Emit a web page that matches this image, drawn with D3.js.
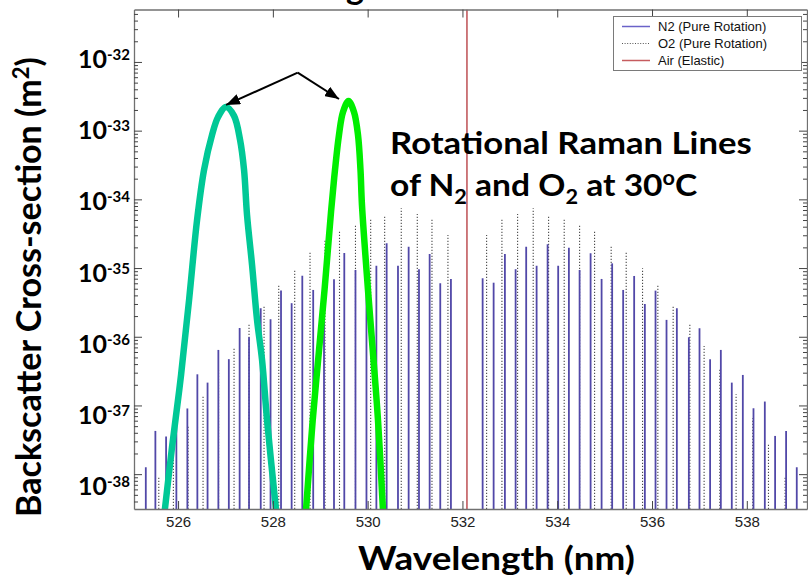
<!DOCTYPE html>
<html>
<head>
<meta charset="utf-8">
<script src="https://cdn.jsdelivr.net/npm/d3@7/dist/d3.min.js"></script>
<style>
  html, body { margin: 0; padding: 0; background: #ffffff; }
  svg { display: block; }
</style>
</head>
<body>
<svg id="chart" width="808" height="579"></svg>
<script>
// ---- N2 pure rotational Raman lines (wavelength in nm, cross-section in m^2)
const n2Wavelength = [
  525.319, 525.521, 525.747, 525.964, 526.196, 526.407, 526.622, 526.850, 527.071, 527.299,
  527.497, 527.744, 527.951, 528.172, 528.396, 528.621, 528.851, 529.079, 529.290, 529.507,
  529.743, 529.975, 530.184, 530.401, 530.640, 530.865, 531.083, 531.308, 531.532, 531.757,
  532.426, 532.658, 532.896, 533.122, 533.345, 533.565, 533.797, 534.020, 534.246, 534.472,
  534.704, 534.936, 535.159, 535.391, 535.623, 535.849, 536.074, 536.306, 536.524, 536.777,
  537.002, 537.226, 537.452, 537.683, 537.916, 538.141, 538.380, 538.597, 538.829, 539.054
];
const n2Cross = [
  1.26e-38, 4.26e-38, 3.52e-38, 7.28e-38, 9.04e-38, 2.84e-37, 2.15e-37, 6.43e-37, 4.72e-37, 1.34e-36,
  9.84e-37, 2.60e-36, 1.80e-36, 4.72e-36, 3.08e-36, 7.73e-36, 4.80e-36, 5.68e-36, 6.89e-36, 1.65e-35,
  9.38e-36, 1.83e-35, 1.08e-35, 2.30e-35, 1.08e-35, 2.05e-35, 9.62e-36, 1.60e-35, 6.01e-36, 6.94e-36,
  7.10e-36, 6.12e-36, 1.60e-35, 9.62e-36, 2.05e-35, 1.08e-35, 2.22e-35, 1.08e-35, 1.98e-35, 9.38e-36,
  1.64e-35, 6.94e-36, 1.17e-35, 4.80e-36, 7.67e-36, 3.00e-36, 4.69e-36, 1.76e-36, 2.60e-36, 9.84e-37,
  1.33e-36, 4.70e-37, 6.43e-37, 2.15e-37, 2.78e-37, 9.10e-38, 1.14e-37, 3.60e-38, 4.26e-38, 1.26e-38
];

// ---- O2 pure rotational Raman lines
const o2Wavelength = [
  525.593, 525.901, 526.211, 526.527, 526.854, 527.181, 527.497, 527.814, 528.124, 528.461,
  528.784, 529.100, 529.406, 529.743, 530.064, 530.359, 530.709, 531.047, 531.357, 531.694,
  532.510, 532.833, 533.164, 533.493, 533.818, 534.147, 534.472, 534.788, 535.138, 535.455,
  535.800, 536.123, 536.446, 536.798, 537.099, 537.431, 537.774, 538.126, 538.457, 538.808
];
const o2Cross = [
  9.20e-39, 1.80e-38, 5.20e-38, 1.42e-37, 3.29e-37, 7.03e-37, 1.57e-36, 2.74e-36, 5.58e-36, 9.62e-36,
  1.73e-35, 2.56e-35, 3.49e-35, 4.24e-35, 5.31e-35, 5.93e-35, 7.41e-35, 6.12e-35, 5.31e-35, 3.03e-35,
  3.03e-35, 5.31e-35, 6.12e-35, 7.41e-35, 5.93e-35, 5.31e-35, 4.38e-35, 3.59e-35, 2.17e-35, 1.73e-35,
  9.93e-36, 5.68e-36, 2.90e-36, 1.57e-36, 7.35e-37, 3.48e-37, 1.46e-37, 6.52e-38, 2.78e-38, 9.20e-39
];

// ---- elastic (Rayleigh) return of air
const elasticWavelength = 532.095;

// ---- two receiver passbands selecting the rotational lines
const passAWavelength = [525.72, 525.873, 526.063, 526.232, 526.401, 526.548, 526.717, 526.844, 527.012,
  527.181, 527.308, 527.392, 527.455, 527.561, 527.666, 527.772, 527.877, 528.067];
const passACross = [3.0e-39, 2.49e-38, 2.78e-37, 3.43e-36, 5.01e-35, 2.68e-34, 8.66e-34, 1.58e-33, 2.21e-33,
  1.64e-33, 7.33e-34, 2.68e-34, 5.93e-35, 1.11e-35, 1.76e-36, 4.59e-37, 6.15e-38, 3.0e-39];
const passBWavelength = [528.699, 528.841, 528.959, 529.090, 529.227, 529.311, 529.395, 529.480, 529.596,
  529.712, 529.796, 529.849, 529.880, 530.007, 530.112, 530.218, 530.323];
const passBCross = [3.0e-39, 6.15e-38, 4.91e-37, 4.80e-36, 6.56e-35, 2.68e-34, 8.66e-34, 1.87e-33, 2.70e-33,
  1.87e-33, 8.66e-34, 2.68e-34, 8.29e-35, 4.80e-36, 5.81e-37, 6.15e-38, 3.0e-39];

// ---- axis ticks and labels
const xTicks = [526, 528, 530, 532, 534, 536, 538];
const yExponents = [-32, -33, -34, -35, -36, -37, -38];
const legendLabels = ["N2 (Pure Rotation)", "O2 (Pure Rotation)", "Air (Elastic)"];

// ---- callout arrows, in data coordinates
const arrowOrigin = [528.524, 7.0e-33];
const arrowTips = [[527.012, 2.37e-33], [529.395, 2.89e-33]];

// ================= drawing =================
const svg = d3.select("#chart");
const plot = { left: 134, right: 807, top: 9.5, bottom: 509 };

const x = d3.scaleLinear().domain([525.07, 539.27]).range([plot.left, plot.right]);
const y = d3.scaleLog().domain([3.11e-39, 5.8e-32]).range([plot.bottom, plot.top]);
// exponent labels are set on a slightly wider log scale of their own
const yLabel = d3.scaleLog().domain([1e-38, 1e-32]).range([486, 59]);

const boldFont = "Lato, 'Open Sans', sans-serif";
const plainFont = "'Liberation Sans', Arial, sans-serif";

const defs = svg.append("defs");
defs.append("clipPath").attr("id", "plot-clip")
  .append("rect")
  .attr("x", plot.left).attr("y", plot.top)
  .attr("width", plot.right - plot.left).attr("height", plot.bottom - plot.top);
defs.append("marker")
  .attr("id", "arrowhead")
  .attr("viewBox", "0 0 14 11")
  .attr("refX", 14).attr("refY", 5.5)
  .attr("markerWidth", 14).attr("markerHeight", 11)
  .attr("markerUnits", "userSpaceOnUse")
  .attr("orient", "auto")
  .append("path").attr("d", "M0,0 L14,5.5 L0,11 Z").attr("fill", "#000");

// title line sitting above the frame
svg.append("text")
  .attr("x", 364).attr("y", -1)
  .attr("text-anchor", "end")
  .style("font-family", boldFont).style("font-weight", 700).style("font-size", "34px")
  .text("Raman Scattering");

const marks = svg.append("g").attr("clip-path", "url(#plot-clip)");

// O2 lines: dotted
const o2 = d3.zip(o2Wavelength, o2Cross);
marks.append("g").selectAll("line").data(o2).join("line")
  .attr("x1", d => x(d[0])).attr("x2", d => x(d[0]))
  .attr("y1", plot.bottom).attr("y2", d => y(d[1]))
  .attr("stroke", "#4a4a4a").attr("stroke-width", 1.1)
  .attr("stroke-dasharray", "1.3,1.7");

// N2 lines: solid
const n2 = d3.zip(n2Wavelength, n2Cross);
marks.append("g").selectAll("line").data(n2).join("line")
  .attr("x1", d => x(d[0])).attr("x2", d => x(d[0]))
  .attr("y1", plot.bottom).attr("y2", d => y(d[1]))
  .attr("stroke", "#5148a8").attr("stroke-width", 1.8);

// elastic line spans the full height
marks.append("line")
  .attr("x1", x(elasticWavelength)).attr("x2", x(elasticWavelength))
  .attr("y1", plot.top).attr("y2", plot.bottom)
  .attr("stroke", "#c25a5e").attr("stroke-width", 1.6);

// passband curves
const passLine = d3.line().x(d => x(d[0])).y(d => y(d[1])).curve(d3.curveCatmullRom.alpha(0.5));
marks.append("path")
  .datum(d3.zip(passAWavelength, passACross))
  .attr("d", passLine)
  .attr("fill", "none").attr("stroke", "#00c896").attr("stroke-width", 6.5)
  .attr("stroke-linejoin", "round");
marks.append("path")
  .datum(d3.zip(passBWavelength, passBCross))
  .attr("d", passLine)
  .attr("fill", "none").attr("stroke", "#00ee00").attr("stroke-width", 6.5)
  .attr("stroke-linejoin", "round");

// ---- axes (ticks pointing inward on all four sides)
const axisColor = "#707070";
const isDecade = d => Math.abs(Math.log10(d) - Math.round(Math.log10(d))) < 1e-6;
const yTickValues = y.ticks();

const gBottom = svg.append("g").attr("transform", `translate(0,${plot.bottom})`)
  .call(d3.axisBottom(x).tickValues(xTicks).tickSize(-8).tickSizeOuter(0).tickPadding(7)
    .tickFormat(d3.format("d")));
const gTop = svg.append("g").attr("transform", `translate(0,${plot.top})`)
  .call(d3.axisTop(x).tickValues(xTicks).tickSize(-8).tickSizeOuter(0).tickFormat(""));
const gLeft = svg.append("g").attr("transform", `translate(${plot.left},0)`)
  .call(d3.axisLeft(y).tickValues(yTickValues).tickSize(-4).tickSizeOuter(0).tickFormat(""));
const gRight = svg.append("g").attr("transform", `translate(${plot.right},0)`)
  .call(d3.axisRight(y).tickValues(yTickValues).tickSize(-4).tickSizeOuter(0).tickFormat(""));

gLeft.selectAll(".tick line").filter(isDecade).attr("x2", 8);
gRight.selectAll(".tick line").filter(isDecade).attr("x2", -8);

[gBottom, gTop, gLeft, gRight].forEach(g => {
  g.select(".domain").attr("stroke", axisColor).attr("stroke-width", 1.3);
  g.selectAll(".tick line").attr("stroke", "#444").attr("stroke-width", 1);
});
gBottom.selectAll(".tick text")
  .attr("fill", "#222")
  .style("font-family", plainFont).style("font-size", "15px");

// y exponent labels: 10 with superscript power
const yLabels = svg.append("g").selectAll("text").data(yExponents).join("text")
  .attr("x", 130).attr("y", d => yLabel(Math.pow(10, d)) + 9)
  .attr("text-anchor", "end")
  .style("font-family", boldFont).style("font-weight", 700).style("font-size", "25px")
  .attr("fill", "#000");
yLabels.append("tspan").text("10");
yLabels.append("tspan").attr("dy", -8).style("font-size", "15px").text(d => String(d));

// helper: squeeze a text horizontally to a given width
function fitWidth(sel, width) {
  const w = sel.node().getBBox().width;
  return w > 0 ? width / w : 1;
}

// x title
const xTitle = svg.append("text")
  .attr("x", 0).attr("y", 0).attr("text-anchor", "middle")
  .style("font-family", boldFont).style("font-weight", 700).style("font-size", "32px")
  .text("Wavelength (nm)");
xTitle.attr("transform", `translate(496.5,570) scale(${fitWidth(xTitle, 277)},1)`);

// y title
const yTitle = svg.append("text")
  .attr("x", 0).attr("y", 0).attr("text-anchor", "middle")
  .style("font-family", boldFont).style("font-weight", 700).style("font-size", "34px");
yTitle.append("tspan").text("Backscatter Cross-section (m");
yTitle.append("tspan").attr("dy", -12).style("font-size", "22px").text("2");
yTitle.append("tspan").attr("dy", 12).text(")");
yTitle.attr("transform", `translate(41,287) rotate(-90) scale(${fitWidth(yTitle, 460)},1)`);

// annotation text
const note1 = svg.append("text")
  .attr("x", 0).attr("y", 0)
  .style("font-family", boldFont).style("font-weight", 700).style("font-size", "31px")
  .text("Rotational Raman Lines");
note1.attr("transform", `translate(390,154) scale(${fitWidth(note1, 362)},1)`);

const note2 = svg.append("text")
  .attr("x", 0).attr("y", 0)
  .style("font-family", boldFont).style("font-weight", 700).style("font-size", "31px");
note2.append("tspan").text("of N");
note2.append("tspan").attr("dy", 8).style("font-size", "20px").text("2");
note2.append("tspan").attr("dy", -8).text(" and O");
note2.append("tspan").attr("dy", 8).style("font-size", "20px").text("2");
note2.append("tspan").attr("dy", -8).text(" at 30");
note2.append("tspan").attr("dy", -11).style("font-size", "20px").text("o");
note2.append("tspan").attr("dy", 11).text("C");
note2.attr("transform", `translate(390,196) scale(${fitWidth(note2, 308)},1)`);

// callout arrows
svg.append("g").selectAll("line").data(arrowTips).join("line")
  .attr("x1", x(arrowOrigin[0])).attr("y1", y(arrowOrigin[1]))
  .attr("x2", d => x(d[0])).attr("y2", d => y(d[1]))
  .attr("stroke", "#000").attr("stroke-width", 2)
  .attr("marker-end", "url(#arrowhead)");

// legend
const legend = svg.append("g");
legend.append("rect")
  .attr("x", 613.5).attr("y", 16.5).attr("width", 188).attr("height", 54)
  .attr("fill", "#fff").attr("stroke", "#7a7a7a").attr("stroke-width", 1);
const legendStyles = [
  { stroke: "#6a62c8", width: 1.5, dash: null },
  { stroke: "#555", width: 1, dash: "1,1.6" },
  { stroke: "#c65c5f", width: 1.5, dash: null }
];
const rows = legend.selectAll("g.row").data(legendLabels).join("g")
  .attr("class", "row")
  .attr("transform", (d, i) => `translate(0,${26.5 + i * 17})`);
rows.append("line")
  .attr("x1", 622).attr("x2", 650).attr("y1", 0).attr("y2", 0)
  .attr("stroke", (d, i) => legendStyles[i].stroke)
  .attr("stroke-width", (d, i) => legendStyles[i].width)
  .attr("stroke-dasharray", (d, i) => legendStyles[i].dash);
rows.append("text")
  .attr("x", 658).attr("y", 4.7)
  .style("font-family", plainFont).style("font-size", "13px").attr("fill", "#111")
  .text(d => d);
</script>
</body>
</html>
